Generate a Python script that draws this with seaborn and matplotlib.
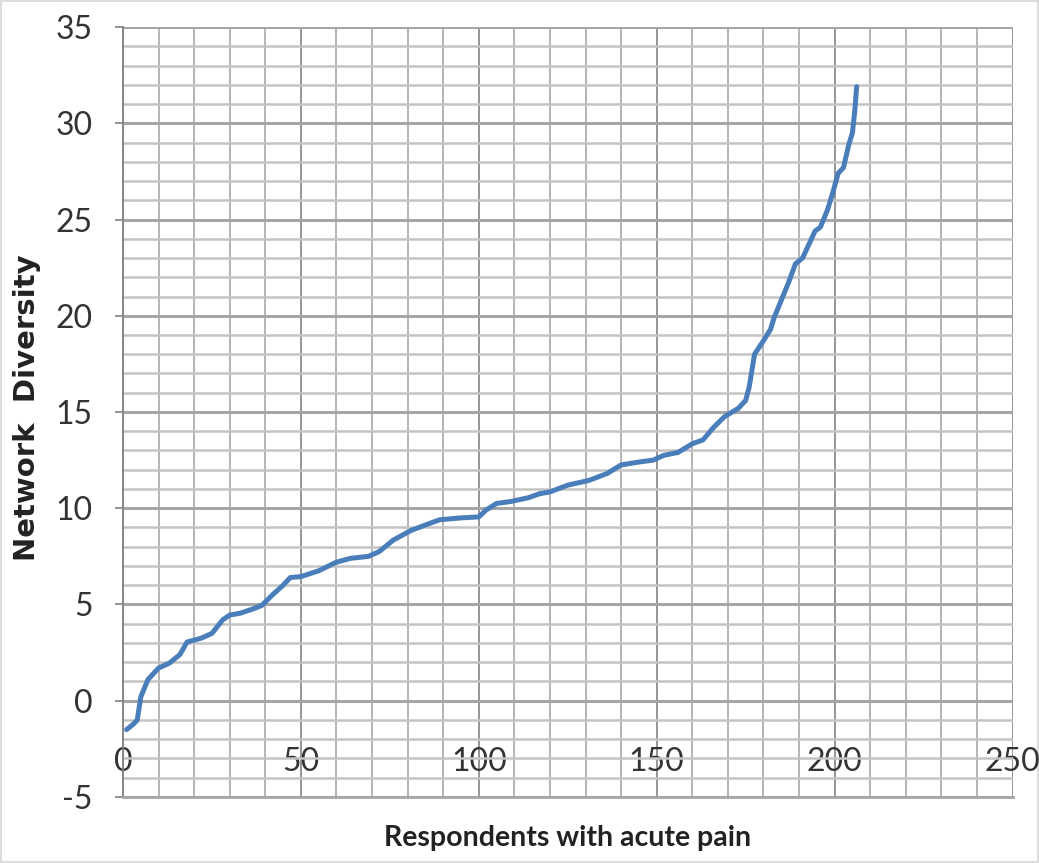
import numpy as np
import pandas as pd
import matplotlib
matplotlib.use("Agg")
import matplotlib.pyplot as plt
import seaborn as sns
from matplotlib.ticker import MultipleLocator

# values (respondent rank -> network diversity)
respondent = [1, 3, 4, 5, 7, 10, 13, 16, 18, 22, 25, 28, 30, 33, 37, 39, 42, 45, 47, 50,
              55, 60, 64, 69, 72, 76, 81, 86, 89, 95, 100, 102, 105, 109, 114, 117, 120,
              125, 131, 136, 140, 145, 149, 152, 156, 160, 163, 166, 169, 173, 175, 176,
              177.5, 180, 182, 183, 185, 187, 189, 191, 192.5, 194.5, 196, 198, 199.5,
              201, 202.5, 204, 205, 205.7, 206.2]
diversity = [-1.5, -1.2, -1.0, 0.2, 1.1, 1.7, 1.95, 2.4, 3.05, 3.25, 3.5, 4.2, 4.45, 4.55,
             4.8, 4.95, 5.5, 6.0, 6.4, 6.45, 6.75, 7.2, 7.4, 7.5, 7.75, 8.35, 8.85, 9.2,
             9.4, 9.5, 9.55, 9.9, 10.25, 10.35, 10.55, 10.75, 10.85, 11.2, 11.45, 11.8,
             12.25, 12.4, 12.5, 12.75, 12.9, 13.35, 13.55, 14.2, 14.75, 15.2, 15.6, 16.3,
             18.0, 18.7, 19.3, 19.9, 20.8, 21.7, 22.7, 23.0, 23.6, 24.4, 24.6, 25.5, 26.4,
             27.4, 27.7, 28.9, 29.5, 30.7, 31.9]

x_ticks = [0, 50, 100, 150, 200, 250]
y_ticks = [-5, 0, 5, 10, 15, 20, 25, 30, 35]

df = pd.DataFrame({"respondent": respondent, "diversity": diversity})

sns.set_theme(style="white")
plt.rcParams["axes.unicode_minus"] = False
narrow = ["Lato", "DejaVu Sans"]

fig = plt.figure(figsize=(10.39, 8.63), dpi=100)
fig.patch.set_edgecolor("#dddddd")
fig.patch.set_linewidth(1.5)
ax = fig.add_axes([0.1184, 0.0765, 0.9745 - 0.1184, 0.9687 - 0.0765])

sns.lineplot(data=df, x="respondent", y="diversity", ax=ax, color="#4a7ebb",
             linewidth=3.6, zorder=5)

ax.set_xlim(0, 250)
ax.set_ylim(-5, 35)
ax.xaxis.set_major_locator(MultipleLocator(50))
ax.xaxis.set_minor_locator(MultipleLocator(10))
ax.yaxis.set_major_locator(MultipleLocator(5))
ax.yaxis.set_minor_locator(MultipleLocator(1))
ax.set_xticks(x_ticks)
ax.set_yticks(y_ticks)

ax.grid(which="major", axis="y", color="#a6a6a6", linewidth=2.2)
ax.grid(which="minor", axis="y", color="#c4c4c4", linewidth=1.8)
ax.grid(which="major", axis="x", color="#8c8c8c", linewidth=1.3)
ax.grid(which="minor", axis="x", color="#a0a0a0", linewidth=1.1)
ax.set_axisbelow(True)

for side in ["top", "right"]:
    ax.spines[side].set_visible(False)
ax.spines["left"].set_color("#808080")
ax.spines["left"].set_linewidth(1.3)
ax.spines["bottom"].set_color("#a6a6a6")
ax.spines["bottom"].set_linewidth(2)

ax.tick_params(axis="y", which="major", length=6, width=1.2, color="#808080",
               left=True, pad=16, labelsize=23, labelcolor="#333333")
ax.tick_params(axis="y", which="minor", length=0)
ax.tick_params(axis="x", which="both", length=0, pad=-36, labelsize=23,
               labelcolor="#333333")
for lbl in ax.get_xticklabels() + ax.get_yticklabels():
    lbl.set_family(narrow)

ax.set_xlabel("Respondents with acute pain", fontsize=20.5, family=narrow,
              fontweight="bold", color="#222222", va="center")
ax.xaxis.set_label_coords(0.5, -0.053)
ax.set_ylabel("Network  Diversity", fontsize=21, family="DejaVu Sans",
              fontweight="bold", color="#222222", va="center")
ax.yaxis.set_label_coords(-0.108, 0.505)

fig.savefig("out.png", dpi=100)
